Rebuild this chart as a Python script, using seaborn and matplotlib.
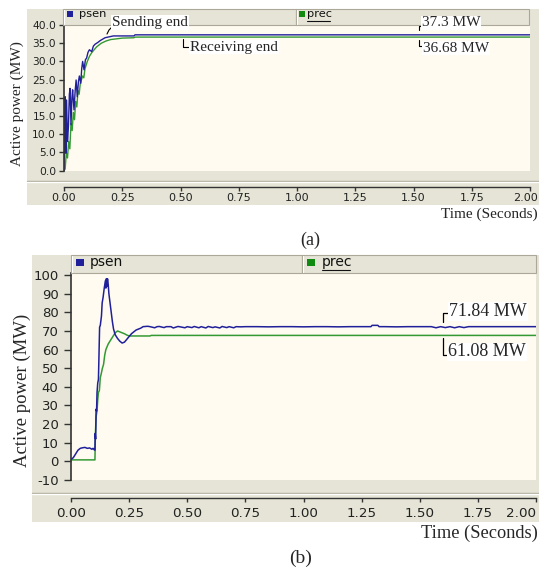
import numpy as np
import pandas as pd
import matplotlib
matplotlib.use("Agg")
import matplotlib.pyplot as plt
from matplotlib.patches import Rectangle
from matplotlib.lines import Line2D
from matplotlib.transforms import ScaledTranslation
import seaborn as sns

# ---------------- data ----------------
# Panel (a): sending end (psen) and receiving end (prec), MW
a_t_sen = [0.0, 0.003, 0.005, 0.008, 0.011, 0.015, 0.019, 0.023, 0.026, 0.030, 0.034, 0.037,
           0.043, 0.048, 0.052, 0.057, 0.062, 0.066, 0.072, 0.076, 0.080, 0.086, 0.092, 0.097,
           0.103, 0.109, 0.119, 0.126, 0.133, 0.145, 0.155, 0.176, 0.212, 0.25, 0.30, 0.305, 2.0]
a_p_sen = [0.0, 12.0, 20.3, 4.8, 19.4, 8.0, 12.1, 21.0, 22.6, 12.6, 20.0, 22.2,
           16.7, 22.0, 24.9, 20.3, 24.5, 26.0, 24.0, 28.0, 30.0, 27.7, 30.5, 30.9,
           32.5, 33.2, 32.7, 34.2, 34.7, 35.2, 35.7, 36.5, 37.0, 37.0, 37.0, 37.3, 37.3]
a_t_rec = [0.0, 0.005, 0.010, 0.015, 0.020, 0.025, 0.030, 0.035, 0.040, 0.045, 0.050, 0.055,
           0.060, 0.065, 0.070, 0.080, 0.085, 0.090, 0.100, 0.110, 0.120, 0.140, 0.160, 0.180,
           0.200, 0.250, 0.300, 0.305, 2.0]
a_p_rec = [0.0, 0.5, 5.0, 3.5, 8.0, 6.0, 13.0, 11.0, 16.0, 14.0, 19.0, 17.5,
           22.0, 21.0, 24.0, 26.0, 25.5, 28.0, 30.0, 31.5, 32.5, 34.0, 35.0, 35.6,
           36.0, 36.4, 36.5, 36.68, 36.68]

# Panel (b)
b_t_sen = [0.0, 0.01, 0.02, 0.03, 0.04, 0.05, 0.06, 0.07, 0.08, 0.09, 0.095, 0.100, 0.103,
           0.104, 0.106, 0.108, 0.110, 0.112, 0.115, 0.118, 0.120, 0.123, 0.126, 0.128, 0.131,
           0.134, 0.138, 0.143, 0.148, 0.150, 0.152, 0.155, 0.157, 0.160, 0.163, 0.168, 0.173,
           0.178, 0.183, 0.190, 0.200, 0.210, 0.220, 0.230, 0.240, 0.250, 0.260, 0.270, 0.280,
           0.290, 0.300, 0.310, 0.330, 0.34, 0.36, 0.37, 0.38, 0.40, 0.41, 0.43, 0.44, 0.46,
           0.47, 0.49, 0.50, 0.52, 0.53, 0.55, 0.56, 0.58, 0.59, 0.61, 0.62, 0.64, 0.65, 0.67,
           0.68, 0.70, 0.71, 0.73, 0.75, 0.80, 0.85, 0.90, 0.95, 1.00, 1.05, 1.10, 1.15, 1.20,
           1.25, 1.29, 1.295, 1.32, 1.325, 1.35, 1.40, 1.45, 1.50, 1.55, 1.57, 1.59, 1.61, 1.63,
           1.65, 1.67, 1.69, 1.71, 1.75, 1.80, 1.90, 2.00]
b_p_sen = [1.0, 2.0, 4.0, 6.0, 7.0, 7.3, 7.5, 7.0, 7.2, 6.5, 7.0, 6.2, 6.0,
           15.0, 12.0, 28.0, 27.0, 37.0, 42.0, 44.0, 55.0, 72.0, 73.0, 75.0, 78.0,
           85.0, 88.0, 93.0, 97.0, 93.0, 98.0, 94.0, 98.0, 95.0, 90.0, 85.0, 80.0,
           75.0, 71.0, 68.0, 66.0, 64.5, 63.5, 64.0, 65.5, 67.0, 68.5, 69.5, 70.5,
           71.0, 71.5, 72.3, 72.5, 72.3, 71.7, 72.3, 72.4, 71.8, 72.3, 72.3, 71.6, 72.4,
           72.2, 71.7, 72.3, 71.8, 72.4, 71.7, 72.3, 71.6, 72.4, 71.8, 72.2, 71.6, 72.4, 71.8,
           72.3, 71.7, 72.3, 72.2, 72.3, 72.3, 72.2, 72.3, 72.3, 72.2, 72.3, 72.3, 72.2, 72.3,
           72.3, 72.3, 73.0, 73.0, 72.3, 72.3, 72.2, 72.3, 72.3, 72.3, 71.7, 72.3, 71.8, 72.3,
           71.7, 72.3, 71.8, 72.3, 72.3, 72.3, 72.3, 72.3]
b_t_rec = [0.0, 0.103, 0.105, 0.108, 0.112, 0.115, 0.118, 0.122, 0.126, 0.130, 0.135, 0.140,
           0.145, 0.150, 0.160, 0.170, 0.180, 0.190, 0.200, 0.210, 0.220, 0.230, 0.240, 0.250,
           0.340, 0.345, 2.0]
b_p_rec = [0.8, 0.8, 15.0, 24.0, 27.0, 33.0, 37.0, 38.0, 45.0, 47.0, 50.0, 52.0,
           57.0, 60.0, 63.0, 65.0, 67.0, 69.0, 70.0, 69.5, 69.0, 68.5, 67.8, 67.3,
           67.3, 67.6, 67.6]

series_names = ["psen", "prec"]
a_yticks = [0.0, 5.0, 10.0, 15.0, 20.0, 25.0, 30.0, 35.0, 40.0]
b_yticks = [-10, 0, 10, 20, 30, 40, 50, 60, 70, 80, 90, 100]
xticks = [0.0, 0.25, 0.5, 0.75, 1.0, 1.25, 1.5, 1.75, 2.0]
a_value_labels = ["37.3 MW", "36.68 MW"]
b_value_labels = ["71.84 MW", "61.08 MW"]
a_curve_labels = ["Sending end", "Receiving end"]

# ---------------- style ----------------
sns.set_style("white")
plt.rcParams["font.family"] = ["DejaVu Sans"]
W, H = 539, 573
fig = plt.figure(figsize=(W / 100, H / 100), dpi=100)
fig.patch.set_facecolor("white")

GRAY = "#E5E4D6"
CREAM = "#FFFBF0"
SHADOW = "#ACA899"
BLUE = "#20209A"
GREEN = "#339933"
SERIF = "Liberation Serif"


def rect(x0, y0, x1, y1, **kw):
    fig.add_artist(Rectangle((x0 / W, 1 - y1 / H), (x1 - x0) / W, (y1 - y0) / H,
                             transform=fig.transFigure, **kw))


def line(xs, ys, **kw):
    fig.add_artist(Line2D([x / W for x in xs], [1 - y / H for y in ys],
                          transform=fig.transFigure, **kw))


def text(x, y, s, **kw):
    fig.text(x / W, 1 - y / H, s, **kw)


def axes_px(x0, y0, x1, y1):
    return fig.add_axes([x0 / W, 1 - y1 / H, (x1 - x0) / W, (y1 - y0) / H])


def panel(box, strip, sep_y, ax_box, ylim, yticks, yfmt, t_sen, p_sen, t_rec, p_rec,
          ytick_fs, xtick_fs, ylen, ypad, xlen, xpad, outward, lw, leg, last_shift):
    gx0, gy0, gx1, gy1 = box
    rect(gx0, gy0, gx1, gy1, facecolor=GRAY, edgecolor="none", zorder=0)
    # separator groove between plot and x-axis strip
    line([gx0, gx1], [sep_y, sep_y], color=SHADOW, lw=1.0, zorder=1)
    line([gx0, gx1], [sep_y + 1, sep_y + 1], color="white", lw=1.0, zorder=1)
    # legend strip cells
    sx0, sy0, smid, sx1, sy1 = strip
    for c0, c1 in [(sx0, smid), (smid, sx1)]:
        rect(c0, sy0, c1, sy1, facecolor=GRAY, edgecolor=SHADOW, lw=0.8, zorder=1)
        line([c0 + 1, c0 + 1], [sy0 + 1, sy1 - 1], color="white", lw=0.8, zorder=2)
    (m1, t1, m2, t2, my, msz, lfs, uly) = leg
    rect(m1, my - msz[1] / 2, m1 + msz[0], my + msz[1] / 2, facecolor=BLUE, edgecolor="none", zorder=3)
    text(t1, my, series_names[0], fontsize=lfs, va="center", ha="left", color="#111111")
    rect(m2, my - msz[1] / 2, m2 + msz[0], my + msz[1] / 2, facecolor="#108A10", edgecolor="none", zorder=3)
    text(t2, my, series_names[1], fontsize=lfs, va="center", ha="left", color="#111111")
    line([t2, t2 + lfs * 2.75], [uly, uly], color="#111111", lw=0.8, zorder=3)

    ax = axes_px(*ax_box)
    ax.set_facecolor(CREAM)
    df_s = pd.DataFrame({"t": t_sen, "p": p_sen})
    df_r = pd.DataFrame({"t": t_rec, "p": p_rec})
    sns.lineplot(data=df_r, x="t", y="p", ax=ax, color=GREEN, lw=lw, estimator=None, sort=False)
    sns.lineplot(data=df_s, x="t", y="p", ax=ax, color=BLUE, lw=lw, estimator=None, sort=False)
    ax.set_xlim(0, 2)
    ax.set_ylim(*ylim)
    ax.set_yticks(yticks)
    ax.set_yticklabels([yfmt.format(v) for v in yticks])
    ax.set_xticks(xticks)
    ax.set_xticklabels([f"{v:.2f}" for v in xticks])
    ax.set_xlabel("")
    ax.set_ylabel("")
    for s in ["top", "right"]:
        ax.spines[s].set_visible(False)
    ax.spines["left"].set_color("#333333")
    ax.spines["left"].set_linewidth(1.2)
    ax.spines["bottom"].set_position(("outward", outward))
    ax.spines["bottom"].set_color("#333333")
    ax.spines["bottom"].set_linewidth(1.0)
    ax.tick_params(axis="y", direction="out", length=ylen, width=1.0, pad=ypad,
                   labelsize=ytick_fs, colors="#333333", labelcolor="#222222", left=True)
    ax.tick_params(axis="x", direction="out", length=xlen, width=1.0, pad=xpad,
                   labelsize=xtick_fs, colors="#333333", labelcolor="#222222", bottom=True)
    ax.grid(False)
    # nudge the last x tick label so it stays inside the canvas
    last = ax.get_xticklabels()[-1]
    last.set_transform(last.get_transform() +
                       ScaledTranslation(-last_shift / 100, 0, fig.dpi_scale_trans))
    return ax


# ---------------- panel (a) ----------------
ax_a = panel(box=(27, 9, 539, 205), strip=(63, 9, 296, 529, 25), sep_y=181,
             ax_box=(64, 25, 530, 171), ylim=(-0.08, 40.0), yticks=a_yticks, yfmt="{:.1f}",
             t_sen=a_t_sen, p_sen=a_p_sen, t_rec=a_t_rec, p_rec=a_p_rec,
             ytick_fs=7.7, xtick_fs=8.0, ylen=3.6, ypad=2.0, xlen=2.6, xpad=2.2,
             outward=11.3, lw=1.0,
             leg=(67, 79, 299, 307, 14, (6, 5), 8.2, 21), last_shift=5)

text(17, 103.5, "Active power (MW)", rotation=90, fontsize=11, family=SERIF,
     ha="center", va="center")
text(538, 214, "Time (Seconds)", fontsize=11, family=SERIF, ha="right", va="center")
text(310, 240, "(a)", fontsize=13, family=SERIF, ha="center", va="center")

box_kw = dict(boxstyle="square,pad=0.05", facecolor="white", edgecolor="none")
# Sending end
line([107, 109, 112], [34, 30, 27], color="black", lw=0.8, zorder=5)
text(112, 22.5, a_curve_labels[0], fontsize=11, family=SERIF, ha="left", va="center", bbox=box_kw, zorder=6)
# Receiving end
line([183, 183, 189], [39, 46.5, 46.5], color="black", lw=0.8, zorder=5)
text(190, 47, a_curve_labels[1], fontsize=11, family=SERIF, ha="left", va="center", bbox=box_kw, zorder=6)
# value labels
line([418.5, 418.5, 423], [30, 26, 26], color="black", lw=0.8, zorder=5)
text(422, 23, a_value_labels[0], fontsize=11, family=SERIF, ha="left", va="center", bbox=box_kw, zorder=6)
line([418.5, 418.5, 422], [40, 46, 46], color="black", lw=0.8, zorder=5)
text(423, 48, a_value_labels[1], fontsize=11, family=SERIF, ha="left", va="center", bbox=box_kw, zorder=6)

# ---------------- panel (b) ----------------
ax_b = panel(box=(32, 255, 539, 522), strip=(71, 255, 302, 536, 273), sep_y=493,
             ax_box=(71, 273, 536, 480), ylim=(-10.0, 101.1), yticks=b_yticks, yfmt="{:d}",
             t_sen=b_t_sen, p_sen=b_p_sen, t_rec=b_t_rec, p_rec=b_p_rec,
             ytick_fs=9.5, xtick_fs=9.7, ylen=5.0, ypad=4.0, xlen=3.0, xpad=3.4,
             outward=13.3, lw=1.1,
             leg=(76, 90, 307, 322, 262, (8, 7), 10, 270), last_shift=15)

text(22, 390, "Active power (MW)", rotation=90, fontsize=13.5, family=SERIF,
     ha="center", va="center")
text(538, 533, "Time (Seconds)", fontsize=13.2, family=SERIF, ha="right", va="center")
text(301, 558, "(b)", fontsize=14, family=SERIF, ha="center", va="center")

line([443, 443, 448], [322, 313, 313], color="black", lw=0.9, zorder=5)
text(449, 311.5, b_value_labels[0], fontsize=13, family=SERIF, ha="left", va="center", bbox=box_kw, zorder=6)
line([443, 443, 447], [338, 355, 355], color="black", lw=0.9, zorder=5)
text(448, 352, b_value_labels[1], fontsize=13, family=SERIF, ha="left", va="center", bbox=box_kw, zorder=6)

fig.savefig("out.png", dpi=100, facecolor="white")
